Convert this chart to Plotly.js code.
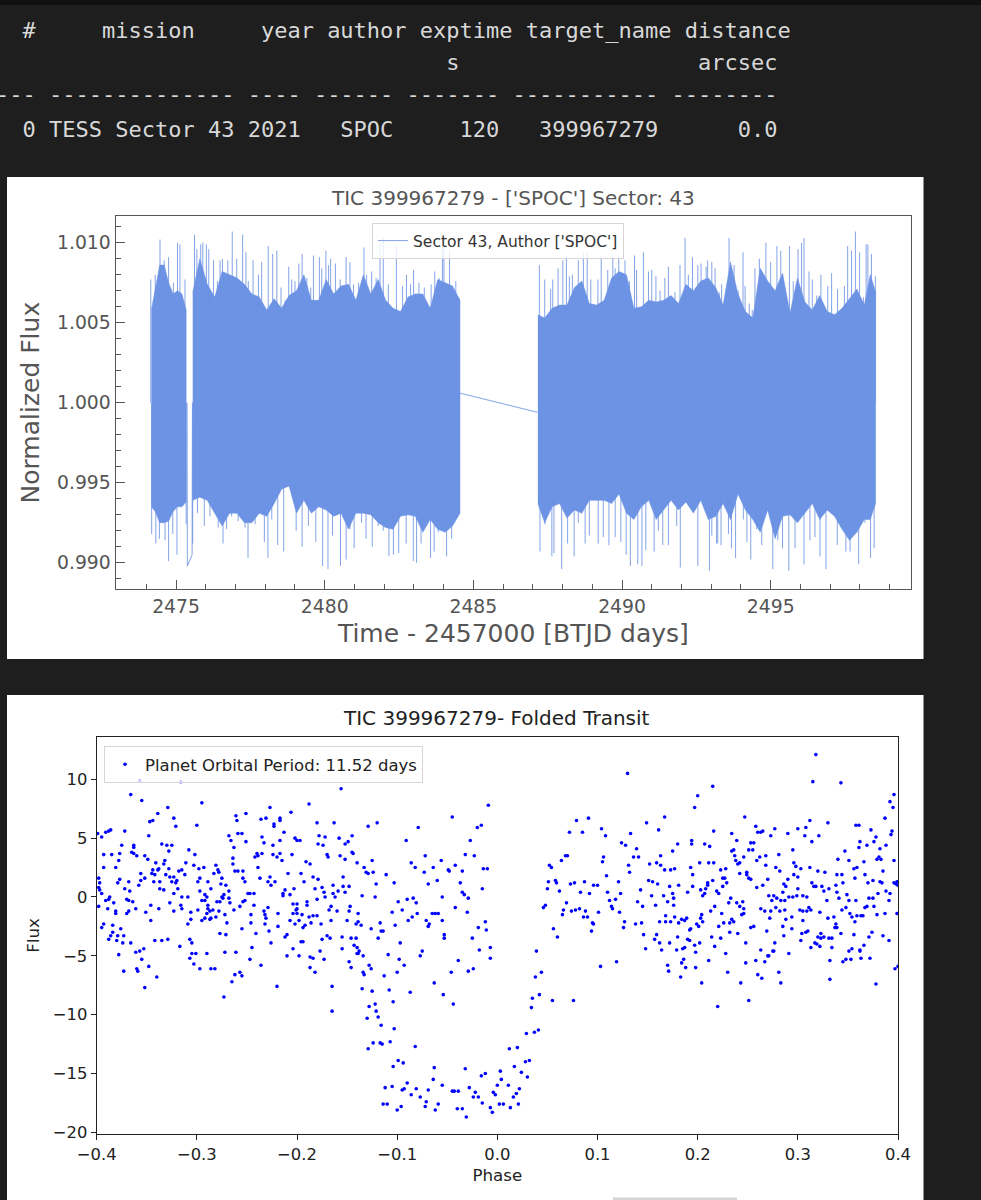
<!DOCTYPE html>
<html><head><meta charset="utf-8">
<script src="https://cdn.plot.ly/plotly-3.0.1.min.js"></script>
<style>html,body{margin:0;padding:0;background:#1e1e1e}#c{width:981px;height:1200px}</style>
</head><body><div id="c"></div>
<script>
// ---- table text
const tableRows = [
 "  #     mission     year author exptime target_name distance",
 "                                  s                  arcsec",
 "--- -------------- ---- ------ ------- ----------- --------",
 "  0 TESS Sector 43 2021   SPOC     120   399967279      0.0"
];
// ---- light curve: tallest upward spikes [time, flux]
const upperSpikes = [[2474.15,1.0077],[2474.30,1.0080],[2474.46,1.0102],[2474.60,1.0089],[2474.75,1.0091],[2474.91,1.0075],[2475.05,1.0100],[2475.13,1.0099],[2475.30,1.0077],
[2475.62,1.0105],[2475.70,1.0096],[2475.83,1.0099],[2475.90,1.0100],[2476.02,1.0099],[2476.10,1.0096],[2476.26,1.0089],[2476.39,1.0076],[2476.48,1.0089],[2476.56,1.0090],[2476.74,1.0089],[2476.89,1.0107],[2477.04,1.0090],[2477.24,1.0105],[2477.35,1.0094],[2477.43,1.0076],[2477.59,1.0089],[2477.77,1.0080],[2477.88,1.0088],[2478.10,1.0098],[2478.25,1.0093],[2478.39,1.0095],[2478.53,1.0072],[2478.67,1.0064],[2478.79,1.0085],[2478.89,1.0077],[2479.00,1.0076],[2479.13,1.0087],[2479.24,1.0093],[2479.40,1.0078],[2479.53,1.0072],[2479.62,1.0092],[2479.82,1.0091],[2479.90,1.0084],[2480.04,1.0095],[2480.13,1.0086],
[2480.20,1.0090],[2480.36,1.0087],[2480.52,1.0077],[2480.72,1.0091],[2480.85,1.0088],[2480.97,1.0074],[2481.14,1.0075],[2481.32,1.0097],[2481.41,1.0080],[2481.58,1.0082],[2481.73,1.0078],[2481.86,1.0100],[2481.97,1.0103],[2482.14,1.0074],[2482.25,1.0059],[2482.41,1.0099],[2482.62,1.0073],[2482.75,1.0080],[2482.89,1.0074],[2482.99,1.0083],[2483.17,1.0075],[2483.35,1.0072],[2483.58,1.0074],[2483.70,1.0082],[2483.85,1.0078],[2483.96,1.0099],[2484.01,1.0099],[2484.20,1.0095],[2484.41,1.0076],[2484.51,1.0066],
[2487.22,1.0086],[2487.40,1.0077],[2487.60,1.0071],[2487.67,1.0077],[2487.85,1.0084],[2488.01,1.0089],[2488.13,1.0092],[2488.23,1.0079],[2488.33,1.0080],[2488.53,1.0089],[2488.70,1.0094],[2488.83,1.0094],[2488.95,1.0077],[2489.19,1.0077],[2489.30,1.0092],[2489.52,1.0083],[2489.69,1.0092],[2489.77,1.0084],[2489.89,1.0092],[2490.10,1.0089],[2490.25,1.0076],[2490.42,1.0092],[2490.49,1.0083],[2490.72,1.0094],[2490.89,1.0082],[2491.00,1.0083],[2491.14,1.0079],[2491.28,1.0070],[2491.44,1.0078],[2491.56,1.0085],[2491.78,1.0069],[2491.95,1.0086],[2492.12,1.0103],[2492.23,1.0080],[2492.37,1.0091],[2492.55,1.0086],[2492.66,1.0087],[2492.83,1.0085],[2492.88,1.0089],[2493.02,1.0088],[2493.13,1.0084],
[2493.27,1.0069],[2493.35,1.0074],[2493.46,1.0062],[2493.60,1.0103],[2493.77,1.0086],[2493.91,1.0070],[2494.07,1.0094],[2494.14,1.0073],[2494.28,1.0062],[2494.38,1.0058],[2494.47,1.0084],[2494.62,1.0090],[2494.84,1.0100],[2495.00,1.0088],[2495.21,1.0098],[2495.34,1.0095],[2495.48,1.0066],[2495.63,1.0098],[2495.76,1.0076],[2495.92,1.0096],[2496.04,1.0100],[2496.12,1.0103],[2496.29,1.0082],[2496.40,1.0077],[2496.55,1.0067],[2496.69,1.0080],[2496.92,1.0073],[2497.05,1.0081],[2497.25,1.0071],[2497.48,1.0073],[2497.59,1.0098],[2497.72,1.0095],[2497.85,1.0107],[2497.99,1.0094],[2498.12,1.0066],[2498.21,1.0099],[2498.27,1.0099],[2498.39,1.0093],[2498.52,1.0079]];
// ---- light curve: deepest downward spikes [time, flux]
const lowerSpikes = [[2474.18,0.9918],[2474.32,0.9912],[2474.44,0.9915],[2474.63,0.9914],[2474.75,0.9901],[2474.89,0.9918],[2475.03,0.9905],[2475.34,0.9924],
[2475.56,0.9912],[2475.72,0.9931],[2475.95,0.9923],[2476.14,0.9929],[2476.42,0.9922],[2476.58,0.9912],[2476.70,0.9921],[2476.87,0.9929],[2477.09,0.9926],[2477.32,0.9922],[2477.42,0.9903],[2477.66,0.9924],[2477.97,0.9913],[2478.09,0.9903],[2478.22,0.9927],[2478.42,0.9911],[2478.62,0.9907],[2479.04,0.9920],[2479.24,0.9910],[2479.45,0.9923],[2479.70,0.9913],[2479.93,0.9898],[2480.11,0.9896],[2480.26,0.9917],[2480.53,0.9898],[2480.72,0.9902],[2480.85,0.9921],[2480.99,0.9909],[2481.24,0.9925],[2481.39,0.9915],[2481.60,0.9910],[2481.80,0.9923],[2481.97,0.9920],[2482.16,0.9904],[2482.31,0.9905],[2482.49,0.9906],[2482.74,0.9912],[2482.98,0.9901],[2483.09,0.9900],[2483.24,0.9912],[2483.56,0.9903],[2483.68,0.9907],[2483.82,0.9919],[2483.97,0.9922],[2484.10,0.9904],[2484.27,0.9915],[2484.50,0.9930],
[2487.24,0.9907],[2487.41,0.9924],[2487.64,0.9904],[2487.71,0.9906],[2487.97,0.9896],[2488.17,0.9912],[2488.39,0.9904],[2488.53,0.9925],[2488.76,0.9912],[2488.90,0.9917],[2489.20,0.9912],[2489.37,0.9916],[2489.56,0.9911],[2489.77,0.9916],[2489.96,0.9913],[2490.14,0.9905],[2490.28,0.9898],[2490.53,0.9899],[2490.67,0.9898],[2490.80,0.9908],[2491.08,0.9907],[2491.22,0.9920],[2491.37,0.9911],[2491.56,0.9911],[2491.84,0.9923],[2491.96,0.9897],[2492.55,0.9898],[2492.94,0.9895],[2493.22,0.9912],
[2493.02,0.9917],[2493.18,0.9912],[2493.33,0.9911],[2493.58,0.9918],[2493.68,0.9909],[2493.82,0.9903],[2494.08,0.9927],[2494.20,0.9913],[2494.33,0.9902],[2494.53,0.9921],[2494.70,0.9911],[2495.07,0.9896],[2495.24,0.9914],[2495.40,0.9909],[2495.61,0.9895],[2495.82,0.9909],[2496.12,0.9899],[2496.32,0.9914],[2496.49,0.9916],[2496.66,0.9904],[2496.86,0.9896],[2497.24,0.9911],[2497.53,0.9907],[2497.67,0.9907],[2497.80,0.9920],[2497.96,0.9899],[2498.17,0.9925],[2498.36,0.9903],[2498.48,0.9909]];
// ---- light curve: the solid band [time, top of band, bottom of band]
const bandA = [[2474.17,1.0058,0.9935],[2474.30,1.0070,0.9932],[2474.45,1.0086,0.9925],[2474.60,1.0086,0.9925],[2474.75,1.0075,0.9926],[2474.90,1.0068,0.9932],[2475.05,1.0070,0.9935],[2475.20,1.0068,0.9935],[2475.34,1.0058,0.9938]];
const bandB = [[2475.56,1.0069,0.9939],[2475.80,1.0090,0.9941],[2476.05,1.0074,0.9939],[2476.30,1.0066,0.9931],[2476.55,1.0082,0.9923],[2476.80,1.0080,0.9931],[2477.05,1.0078,0.9931],[2477.30,1.0074,0.9925],[2477.55,1.0068,0.9925],[2477.80,1.0066,0.9931],[2478.05,1.0058,0.9929],[2478.30,1.0065,0.9937],[2478.55,1.0059,0.9946],[2478.80,1.0067,0.9948],[2479.05,1.0070,0.9931],[2479.30,1.0080,0.9939],[2479.55,1.0064,0.9931],[2479.80,1.0064,0.9935],[2480.05,1.0077,0.9933],[2480.30,1.0068,0.9929],[2480.55,1.0073,0.9931],[2480.80,1.0074,0.9921],[2481.05,1.0064,0.9931],[2481.30,1.0080,0.9931],[2481.55,1.0068,0.9930],[2481.80,1.0077,0.9925],[2482.05,1.0064,0.9922],[2482.30,1.0059,0.9921],[2482.55,1.0057,0.9929],[2482.80,1.0066,0.9930],[2483.05,1.0068,0.9929],[2483.30,1.0068,0.9919],[2483.55,1.0059,0.9927],[2483.80,1.0077,0.9921],[2484.05,1.0075,0.9919],[2484.30,1.0073,0.9923],[2484.55,1.0064,0.9931]];
const bandC = [[2487.17,1.0055,0.9937],[2487.40,1.0053,0.9925],[2487.65,1.0059,0.9935],[2487.90,1.0061,0.9937],[2488.15,1.0061,0.9928],[2488.40,1.0072,0.9933],[2488.65,1.0076,0.9931],[2488.90,1.0062,0.9939],[2489.15,1.0061,0.9939],[2489.40,1.0064,0.9939],[2489.65,1.0078,0.9937],[2489.90,1.0082,0.9943],[2490.15,1.0080,0.9931],[2490.40,1.0059,0.9927],[2490.65,1.0060,0.9935],[2490.90,1.0064,0.9939],[2491.15,1.0063,0.9927],[2491.40,1.0064,0.9933],[2491.65,1.0067,0.9939],[2491.90,1.0062,0.9933],[2492.15,1.0074,0.9938],[2492.40,1.0070,0.9931],[2492.65,1.0076,0.9939],[2492.90,1.0078,0.9927],[2493.15,1.0072,0.9929],[2493.40,1.0061,0.9937],[2493.65,1.0088,0.9927],[2493.90,1.0068,0.9943],[2494.15,1.0057,0.9933],[2494.40,1.0053,0.9927],[2494.65,1.0084,0.9919],[2494.90,1.0076,0.9933],[2495.15,1.0070,0.9915],[2495.40,1.0081,0.9929],[2495.65,1.0056,0.9930],[2495.90,1.0078,0.9925],[2496.15,1.0063,0.9931],[2496.40,1.0058,0.9937],[2496.65,1.0067,0.9927],[2496.90,1.0057,0.9933],[2497.15,1.0055,0.9929],[2497.40,1.0059,0.9921],[2497.65,1.0065,0.9914],[2497.90,1.0071,0.9919],[2498.15,1.0061,0.9927],[2498.35,1.0080,0.9927],[2498.53,1.0069,0.9937]];
// ---- light curve: the two long jumps across data gaps
const gapLinkA = [[2475.37,1.0000],[2475.38,0.9898],[2475.54,0.9905],[2475.55,1.0000]];
const gapLinkB = [[2484.55,1.0006],[2487.16,0.9994]];
const normalFlux = 1.0;
// ---- folded transit [phase, flux]
const foldedPoints = [[-.399,5.4],[-.395,5.1],[-.391,5.5],[-.388,5.6],[-.386,5.7],[-.372,5.6],[-.366,8.7],[-.357,9.9],[-.355,8.2],[-.339,7.1],[-.344,6.5],[-.347,6.4],[-.329,7.6],[-.323,6.7],[-.321,6.0],[-.316,9.8],[-.300,6.1],[-.295,8.0],[-.348,5.2],[-.335,4.5],[-.330,4.4],[-.325,4.4],[-.375,4.4],[-.363,4.4],[-.363,4.2],[-.365,3.8],[-.363,3.7],[-.360,3.5],[-.393,3.6],[-.385,3.6],[-.377,3.7],[-.352,3.5],[-.349,3.2],[-.328,3.9],[-.308,4.0],[-.302,3.6],[-.393,2.5],[-.378,3.1],[-.381,2.5],[-.332,3.1],[-.341,2.9],[-.333,2.8],[-.338,2.4],[-.328,2.4],[-.311,2.9],[-.303,2.7],[-.298,2.4],[-.293,2.5],[-.315,2.3],[-.318,2.2],[-.312,1.9],[-.281,2.7],[-.279,2.3],[-.278,2.1],[-.283,2.0],[-.356,2.0],[-.344,2.3],[-.339,2.3],[-.345,2.0],[-.342,1.9],[-.331,1.9],[-.352,1.6],[-.356,1.4],[-.377,1.5],[-.379,1.2],[-.368,1.3],[-.358,1.0],[-.343,1.3],[-.337,1.3],[-.398,1.6],[-.397,1.2],[-.327,1.7],[-.323,1.7],[-.325,1.3],[-.320,1.4],[-.321,1.2],[-.297,1.6],[-.299,1.3],[-.289,1.3],[-.275,1.6],[-.276,1.1],[-.271,1.0],[-.286,.7],[-.297,.5],[-.292,.2],[-.290,0],[-.398,.8],[-.397,.6],[-.395,.3],[-.372,.7],[-.367,.5],[-.337,.7],[-.333,.6],[-.319,.7],[-.323,.3],[-.315,0],[-.309,0],[-.268,.5],[-.273,.2],[-.275,0],[-.295,-.3],[-.388,-.2],[-.391,-.3],[-.387,0],[-.370,-.2],[-.368,-.3],[-.327,-.5],[-.364,-.4],[-.383,-.5],[-.398,-.8],[-.389,-1.0],[-.361,-1.0],[-.381,-1.2],[-.381,-1.4],[-.370,-1.4],[-.368,-1.2],[-.351,-1.3],[-.346,-.7],[-.338,-1.0],[-.346,-2.0],[-.323,-1.2],[-.315,-1.0],[-.316,-.7],[-.306,-1.3],[-.299,-1.1],[-.306,-1.9],[-.295,-2.0],[-.290,-1.4],[-.289,-1.0],[-.287,-1.2],[-.284,-1.1],[-.287,-1.9],[-.292,-1.8],[-.286,-1.8],[-.281,-1.7],[-.278,-1.2],[-.280,-.4],[-.277,-.4],[-.292,-.3],[-.289,-.7],[-.274,-.1],[-.268,-.1],[-.267,-.5],[-.263,-1.1],[-.257,-.8],[-.254,-.4],[-.252,-.3],[-.249,.3],[-.247,.3],[-.243,.3],[-.270,-2.2],[-.272,-1.5],[-.255,-2.7],[-.309,-2.3],[-.246,-1.5],[-.246,-2.2],[-.233,-1.2],[-.232,-1.5],[-.231,-1.8],[-.232,-2.3],[-.243,-.7],[-.229,-.9],[-.219,-1.4],[-.241,-3.1],[-.228,-2.9],[-.219,-2.5],[-.277,-3.1],[-.271,-3.2],[-.226,-3.9],[-.212,-3.4],[-.210,-3.2],[-.204,-4.4],
[-.395,-2.6],[-.393,-2.3],[-.384,-2.4],[-.376,-2.7],[-.373,-3.3],[-.386,-3.3],[-.388,-3.6],[-.384,-3.0],[-.379,-3.3],[-.380,-3.7],[-.374,-3.9],[-.366,-3.9],[-.361,-4.7],[-.357,-4.6],[-.353,-4.4],[-.378,-4.9],[-.342,-3.7],[-.335,-3.7],[-.329,-3.6],[-.317,-4.2],[-.307,-3.6],[-.305,-3.9],[-.305,-4.8],[-.301,-4.8],[-.290,-4.8],[-.272,-4.7],[-.261,-4.7],[-.245,-4.3],
[-.227,7.6],[-.236,6.6],[-.231,6.7],[-.217,6.7],[-.217,6.5],[-.223,6.2],[-.223,6.0],[-.261,6.9],[-.260,6.5],[-.251,7.1],[-.259,5.4],[-.255,5.4],[-.268,5.2],[-.266,4.8],[-.251,4.7],[-.263,4.2],[-.240,3.7],[-.235,3.7],[-.242,3.4],[-.239,3.5],[-.235,5.1],[-.233,4.6],[-.264,3.3],[-.264,2.8],[-.262,2.2],[-.259,2.2],[-.254,2.2],[-.254,1.6],[-.252,1.3],[-.239,2.5],[-.227,1.7],[-.229,1.3],[-.226,1.0],[-.222,1.3],[-.237,1.6],[-.224,3.6],[-.220,3.4],[-.217,3.7],[-.215,3.1],[-.213,5.5],[-.206,7.2],[-.188,7.9],[-.202,5.0],[-.200,4.8],[-.197,4.8],[-.217,4.8],[-.224,4.4],[-.205,3.6],[-.209,2.0],[-.196,2.0],[-.193,1.3],[-.191,3.0],[-.187,2.8],[-.184,1.7],[-.179,1.5],[-.180,6.3],[-.178,5.2],[-.172,5.1],[-.179,4.5],[-.174,4.4],[-.170,3.6],[-.169,3.4],[-.163,6.3],[-.158,5.0],[-.156,9.2],[-.152,4.5],[-.149,4.7],[-.145,5.2],[-.157,3.5],[-.152,3.2],[-.145,3.8],[-.144,3.7],[-.140,2.9],[-.129,6.0],[-.120,6.3],[-.125,3.1],[-.133,2.5],[-.131,2.1],[-.129,2.0],[-.124,2.1],[-.111,1.9],[-.103,1.2],[-.121,1.1],[-.154,1.7],[-.164,1.0],[-.154,.9],[-.148,.9],[-.203,.7],[-.212,.6],[-.214,.3],[-.214,.1],[-.207,.2],[-.182,.7],[-.175,.8],[-.173,.4],[-.172,0],[-.164,.3],[-.162,0],[-.159,.5],[-.152,.4],[-.180,-.2],[-.135,.1],[-.122,0],[-.204,-.6],[-.200,-.6],[-.190,-.4],[-.190,-.7],[-.200,-1.0],[-.201,-1.1],[-.204,-1.4],[-.200,-1.4],[-.195,-1.5],[-.188,-1.7],[-.184,-1.6],[-.180,-1.6],[-.207,-2.0],[-.202,-2.3],[-.198,-2.0],[-.192,-2.4],[-.194,-2.6],[-.186,-2.2],[-.176,-2.3],[-.166,-2.0],[-.168,-1.1],[-.166,-.8],[-.160,-1.2],[-.150,-2.0],[-.148,-1.2],[-.147,-.8],[-.139,-1.4],[-.139,-2.1],[-.141,-2.3],[-.136,-2.4],[-.126,-2.7],[-.117,-2.2],[-.116,-2.9],[-.114,-2.9],[-.119,-3.5],[-.105,-1.3],[-.095,-1.1],[-.099,-.4],[-.090,-.2],[-.084,-.1],[-.081,-.5],[-.080,-1.4],[-.085,-1.7],[-.089,-2.0],[-.102,-2.4],[-.079,5.9],[-.091,4.8],[-.086,2.9],[-.082,2.5],[-.073,2.1],[-.072,3.5],[-.064,2.5],[-.056,3.1],[-.069,1.1],[-.060,1.4],[-.055,0],[-.071,-2.0],[-.068,-2.3],[-.069,-2.5],[-.065,-1.4],[-.062,-1.4],[-.059,-1.4],[-.055,-2.0],[-.053,-3.2],[-.053,-3.5],[-.075,-4.6],[-.077,-5.0],[-.045,6.8],[-.027,4.8],[-.020,5.9],[-.016,6.1],[-.009,7.8],[-.049,2.3],[-.048,2.2],[-.042,2.7],[-.035,2.2],[-.032,3.6],[-.023,3.5],[-.037,1.2],[-.015,.7],[-.014,2.4],[-.010,2.4],[-.035,.4],[-.033,.2],[-.029,-.1],[-.042,-.9],[-.030,-1.3],[-.012,-2.1],[-.011,-2.8],[-.019,-2.6],[-.025,-3.5],[-.018,-4.5],[-.007,-4.3],[-.196,-3.8],[-.194,-3.8],[-.175,-3.6],[-.170,-3.3],[-.167,-3.5],[-.155,-3.4],[-.146,-3.5],[-.141,-3.5],[-.143,-4.1],[-.140,-4.3],[-.138,-4.6],[-.155,-4.4],[-.177,-4.6],[-.140,-4.8],[-.097,-3.9],[-.210,-5.0],[-.198,-5.0],[-.187,-5.1],
[-.373,-6.3],[-.360,-6.1],[-.359,-6.3],[-.355,-5.3],[-.348,-5.9],[-.352,-7.7],[-.340,-6.8],[-.307,-5.2],[-.303,-5.7],[-.297,-6.1],[-.286,-6.1],[-.282,-6.1],[-.273,-8.5],[-.265,-7.2],[-.262,-6.6],[-.257,-6.4],[-.255,-6.7],[-.247,-5.3],[-.236,-5.8],[-.220,-7.6],[-.187,-6.0],[-.184,-5.2],[-.182,-6.4],[-.173,-5.3],[-.165,-7.6],[-.165,-9.7],[-.148,-5.5],[-.146,-6.0],[-.139,-4.8],[-.134,-5.0],[-.135,-7.8],[-.134,-6.4],[-.133,-6.6],[-.128,-5.8],[-.126,-6.1],[-.125,-8.0],[-.128,-9.3],[-.122,-9.1],[-.121,-9.7],[-.130,-10.3],[-.119,-10.2],[-.116,-10.9],[-.124,-12.4],[-.129,-12.9],[-.117,-12.4],[-.115,-12.5],[-.107,-12.3],[-.103,-11.2],[-.104,-8.9],[-.108,-7.9],[-.113,-6.7],[-.109,-4.9],[-.100,-6.4],[-.098,-5.3],[-.093,-5.8],[-.087,-8.1],[-.082,-12.7],[-.104,-14.4],[-.099,-13.9],[-.094,-14.1],[-.112,-16.2],[-.105,-16.1],[-.114,-17.6],[-.110,-17.6],[-.100,-18.1],[-.096,-17.8],[-.095,-16.4],[-.093,-16.3],[-.090,-15.8],[-.086,-16.8],[-.081,-16.3],[-.077,-17.0],[-.069,-16.4],[-.072,-17.8],[-.071,-17.4],[-.062,-18.1],[-.059,-17.6],[-.063,-14.5],[-.064,-15.5],[-.055,-16.0],[-.045,-16.5],[-.043,-16.5],[-.039,-16.5],[-.040,-18.0],[-.035,-18.0],[-.031,-18.7],[-.032,-14.6],[-.028,-16.2],[-.022,-16.6],[-.024,-17.0],[-.019,-17.0],[-.015,-17.5],[-.016,-15.2],[-.012,-15.0],[-.007,-17.9],[-.005,-18.3],[-.004,-16.6],[-.002,-16.8],[-.000,-16.0],[.002,-17.6],[-.063,-7.3],[-.054,-8.3],[-.044,-9.1],[-.046,-6.4],[-.029,-6.3],[-.024,-6.1],[-.039,-5.4],[-.007,-5.2],
[.003,-14.8],[.004,-15.5],[.006,-17.6],[.011,-16.0],[.013,-17.9],[.012,-12.9],[.017,-14.4],[.016,-17.0],[.019,-16.7],[.020,-12.8],[.021,-17.6],[.022,-16.3],[.024,-14.9],[.028,-14.0],[.032,-13.9],[.030,-15.3],[.029,-11.6],[.037,-11.5],[.041,-11.3],[.034,-9.4],[.035,-8.6],[.042,-8.3],[.038,-6.8],[.044,-6.4],[.055,-8.8],[.076,-8.8],[.039,-4.6],[.103,-5.9],[.119,-5.5],[.220,-9.3],[.204,-7.3],[.230,-6.4],[.243,-7.3],[.251,-8.8],[.260,-6.6],[.264,-6.9],[.258,-5.4],[.248,-5.6],[.267,-5.5],[.271,-5.0],[.276,-4.6],[.281,-6.4],[.283,-7.3],[.291,-4.8],[.332,-7.0],[.332,-5.4],[.345,-5.5],[.348,-5.3],[.353,-5.3],[.351,-4.6],[.363,-5.2],[.362,-4.6],[.372,-5.2],[.378,-7.4],[.397,-6.1],[.400,-5.9],[.170,-5.8],[.171,-6.3],[.183,-6.8],[.184,-5.6],[.186,-5.3],[.188,-6.0],[.198,-6.0],[.198,-4.7],[.211,-5.4],[.228,-4.8],
[.130,10.5],[.318,12.1],[.315,9.8],[.343,9.7],[.215,9.4],[.200,8.6],[.197,7.6],[.396,8.7],[.392,8.1],[.395,7.6],[.387,6.7],[.079,6.5],[.091,6.7],[.167,6.8],[.149,6.3],[.247,6.8],[.312,6.5],[.330,6.3],[.161,5.7],[.072,5.5],[.085,5.5],[.104,5.8],[.108,5.2],[.133,5.4],[.216,5.6],[.234,5.4],[.239,4.8],[.258,6.0],[.260,5.5],[.265,5.6],[.263,5.5],[.277,5.8],[.273,5.2],[.290,5.4],[.300,5.8],[.308,5.9],[.307,5.2],[.314,4.7],[.321,5.2],[.358,6.1],[.361,6.1],[.373,5.7],[.378,5.1],[.376,4.7],[.362,4.7],[.369,4.4],[.361,4.2],[.388,4.4],[.393,5.3],[.394,5.6],[.124,4.6],[.128,4.4],[.139,4.1],[.194,4.8],[.194,4.5],[.207,4.5],[.212,4.3],[.180,4.5],[.175,3.9],[.253,4.6],[.256,4.6],[.251,4.0],[.255,4.0],[.234,3.9],[.236,4.0],[.295,4.0],[.237,3.5],[.246,3.4],[.268,3.5],[.281,3.6],[.379,3.2],[.381,3.4],[.383,3.2],[.382,4.1],[.347,3.9],[.068,3.5],[.070,3.5],[.106,3.4],[.136,3.4],[.141,3.4],[.163,3.5],[.064,3.1],[.105,3.0],[.052,2.7],[.054,2.5],[.131,2.7],[.132,2.1],[.152,2.8],[.159,2.9],[.163,2.7],[.167,2.3],[.173,2.3],[.177,2.4],[.193,2.5],[.202,2.9],[.211,2.9],[.216,2.9],[.195,1.9],[.223,2.3],[.228,2.4],[.238,3.1],[.240,2.8],[.242,2.9],[.242,2.0],[.259,3.1],[.262,3.4],[.268,2.7],[.278,2.5],[.282,2.2],[.296,2.9],[.298,2.6],[.303,2.4],[.312,2.5],[.320,2.2],[.327,2.1],[.340,3.2],[.351,3.1],[.356,2.4],[.359,2.5],[.366,3.0],[.396,3.1],[.385,2.2],[.357,1.6],[.367,1.9],[.339,1.9],[.344,1.9],[.338,1.0],[.345,1.2],[.249,2.1],[.249,1.9],[.251,1.6],[.253,1.5],[.225,1.6],[.227,1.6],[.229,1.2],[.215,1.4],[.210,1.2],[.210,1.0],[.208,.7],[.207,.3],[.205,.1],[.195,.9],[.190,.4],[.203,.6],[.225,.9],[.219,.5],[.221,.3],[.270,1.5],[.265,1.0],[.259,.8],[.290,1.5],[.286,1.1],[.285,.4],[.288,.9],[.296,1.9],[.300,1.7],[.300,.7],[.314,1.2],[.316,.9],[.318,.9],[.324,.9],[.326,.5],[.331,.7],[.370,1.2],[.375,1.4],[.382,1.3],[.384,1.2],[.388,.5],[.392,.3],[.380,.3],[.396,1.2],[.399,1.3],[.398,1.1],[.400,1.0],[.391,-.3],[.387,-1.4],[.399,-1.4],[.379,-1.5],[.371,-.1],[.375,-.1],[.369,-.8],[.367,-.9],[.376,-.8],[.358,-.3],[.351,-.3],[.349,.2],[.341,-.1],[.339,.4],[.329,-.3],[.322,-1.3],
[.051,1.3],[.058,1.4],[.059,1.2],[.073,1.1],[.077,1.2],[.087,1.3],[.050,.7],[.062,.5],[.096,1.0],[.100,1.0],[.121,1.3],[.083,.4],[.092,.3],[.110,.4],[.123,.3],[.109,1.8],[.118,-.2],[.112,-.3],[.046,-.9],[.048,-.7],[.069,-.5],[.114,-.8],[.115,-1.0],[.066,-1.1],[.065,-1.5],[.074,-1.2],[.078,-1.1],[.082,-1.0],[.088,-1.2],[.101,-1.3],[.122,-1.3],[.086,-1.7],[.090,-1.7],[.095,-2.2],[.096,-2.3],[.127,-2.1],[.138,-2.3],[.144,-2.2],[.126,-2.6],[.094,-2.9],[.056,-2.7],[.060,-3.4],
[.143,.6],[.154,.1],[.166,.1],[.175,.3],[.176,-.1],[.140,-.4],[.145,-.8],[.158,-.7],[.170,-.4],[.176,-.7],[.151,1.4],[.155,1.3],[.160,1.1],[.172,.9],[.181,1.0],[.168,-1.6],[.162,-2.1],[.168,-2.1],[.173,-2.1],[.177,-1.7],[.181,-2.2],[.184,-1.9],[.187,-2.0],[.189,-1.8],[.204,-1.5],[.203,-1.8],[.199,-2.3],[.201,-2.5],[.205,-2.1],[.213,-1.2],[.217,-.8],[.224,-1.4],[.221,-2.5],[.226,-2.2],[.232,-2.2],[.234,-1.9],[.236,-2.1],[.231,-.5],[.233,-.1],[.239,-.5],[.242,-.8],[.245,-.4],[.246,-1.0],[.246,-1.4],[.244,-1.5],[.192,-2.8],[.193,-2.7],[.232,-3.0],[.240,-3.1],[.253,-2.6],[.256,-2.5],[.263,-1.0],[.267,-1.2],[.272,-1.8],[.273,-1.2],[.278,-.9],[.282,-1.2],[.287,-1.1],[.271,.1],[.276,.1],[.274,-.3],[.279,-.1],[.283,-.3],[.287,-.3],[.291,0],[.295,0],[.299,.1],[.305,.1],[.309,0],[.288,-1.9],[.294,-1.7],[.285,-2.5],[.294,-2.7],[.269,-2.9],[.305,-2.0],[.302,-1.1],[.305,-1.2],[.309,-1.2],[.311,-.9],[.313,-1.1],[.304,-3.1],[.308,-3.0],[.310,-2.9],[.330,-1.8],[.336,-1.7],[.338,-2.3],[.337,-2.6],[.339,-2.6],[.343,-3.1],[.356,-3.2],[.354,-1.7],[.352,-1.4],[.348,-.9],[.344,-1.1],[.357,-2.1],[.359,-1.6],[.363,-1.6],[.365,-1.6],[.323,-3.1],[.320,-3.4],[.323,-3.5],[.326,-3.4],[.331,-3.5],[.334,-3.5],[.303,-3.7],[.313,-4.3],[.317,-3.9],[.319,-4.0],[.322,-4.2],[.334,-4.3],[.374,-3.0],[.371,-3.4],[.366,-4.1],[.362,-4.5],[.354,-4.4],[.385,-3.3],[.391,-3.7],[.146,-3.2],[.159,-3.2],[.157,-3.6],[.162,-3.9],[.148,-4.4],[.164,-4.5],[.172,-3.9],[.180,-3.4],[.179,-4.5],[.185,-4.4],[.187,-4.3],[.190,-3.6],[.192,-3.7],[.197,-4.1],[.202,-3.9],[.214,-3.4],[.217,-4.2],[.223,-3.5],[.248,-3.9],[.263,-4.5],[.277,-3.9],[.275,-4.6],[.270,-5.0],[.286,-3.3]];

// ---- styles
const W = 981, H = 1200;
const px = v => v / W, py = v => 1 - v / H;
const LC = '#6d93e4', GREY = '#555555', MONO = 'DejaVu Sans Mono', SANS = 'DejaVu Sans';

// solid band polygons from the band tables
function bandPolygon(rows, xs, ys) {
  rows.forEach(r => { xs.push(r[0]); ys.push(r[1]); });
  rows.slice().reverse().forEach(r => { xs.push(r[0]); ys.push(r[2]); });
  xs.push(null); ys.push(null);
}
const bx = [], by = [];
[bandA, bandB, bandC].forEach(b => bandPolygon(b, bx, by));

// spikes swing out from the normalised level and back
const spikes = upperSpikes.concat(lowerSpikes).sort((a, b) => a[0] - b[0]);
const sx = [], sy = [];
spikes.forEach(s => { sx.push(s[0], s[0], null); sy.push(s[1], normalFlux, null); });
[gapLinkA, gapLinkB].forEach(g => {
  g.forEach(p => { sx.push(p[0]); sy.push(p[1]); });
  sx.push(null); sy.push(null);
});

const traces = [
  {x: bx, y: by, mode: 'lines', fill: 'toself', fillcolor: LC, line: {width: 0.5, color: LC},
   showlegend: false, hoverinfo: 'skip', xaxis: 'x', yaxis: 'y'},
  {x: sx, y: sy, mode: 'lines', line: {width: 1, color: 'rgba(109,147,228,0.85)'},
   name: "Sector 43, Author ['SPOC']", xaxis: 'x', yaxis: 'y', legend: 'legend'},
  {x: foldedPoints.map(p => p[0]), y: foldedPoints.map(p => p[1]), mode: 'markers',
   marker: {size: 3.6, color: '#0000ff'}, name: 'Planet Orbital Period: 11.52 days',
   xaxis: 'x2', yaxis: 'y2', legend: 'legend2', cliponaxis: true}
];

const annotations = tableRows.map((t, i) => ({
  text: t.replace(/ /g, '\u00A0'), xref: 'paper', yref: 'paper',
  x: px(-6), y: py([30, 63, 95, 129][i]), xanchor: 'left', yanchor: 'middle', showarrow: false,
  font: {family: MONO, size: 22, color: '#d8d8d8'}
})).concat([
  {text: "TIC 399967279 - ['SPOC'] Sector: 43", xref: 'paper', yref: 'paper', x: px(513), y: py(198),
   xanchor: 'center', yanchor: 'middle', showarrow: false, font: {family: SANS, size: 20, color: GREY}},
  {text: 'TIC 399967279- Folded Transit', xref: 'paper', yref: 'paper', x: px(497), y: py(718),
   xanchor: 'center', yanchor: 'middle', showarrow: false, font: {family: SANS, size: 20, color: '#222222'}}
]);

const layout = {
  width: W, height: H, margin: {l: 0, r: 0, t: 0, b: 0},
  paper_bgcolor: '#1e1e1e', plot_bgcolor: '#ffffff', font: {family: SANS},
  shapes: [
    {type: 'rect', xref: 'paper', yref: 'paper', x0: px(0), x1: px(981), y0: py(0), y1: py(5), fillcolor: '#111111', line: {width: 0}, layer: 'below'},
    {type: 'rect', xref: 'paper', yref: 'paper', x0: px(7), x1: px(923.5), y0: py(177), y1: py(659), fillcolor: '#ffffff', line: {width: 0}, layer: 'below'},
    {type: 'rect', xref: 'paper', yref: 'paper', x0: px(7), x1: px(923.5), y0: py(695), y1: py(1200), fillcolor: '#ffffff', line: {width: 0}, layer: 'below'},
    {type: 'rect', xref: 'paper', yref: 'paper', x0: px(613), x1: px(737), y0: py(1197.5), y1: py(1200), fillcolor: '#d4d4d4', line: {width: 0}, layer: 'below'}
  ],
  annotations,
  showlegend: true,
  legend: {x: px(372), y: py(223), xanchor: 'left', yanchor: 'top', bgcolor: 'rgba(255,255,255,0.8)',
    bordercolor: '#d5d5d5', borderwidth: 1, font: {family: SANS, size: 15.5, color: '#333333'}},
  legend2: {x: px(104), y: py(746), xanchor: 'left', yanchor: 'top', bgcolor: 'rgba(255,255,255,0.8)',
    bordercolor: '#d5d5d5', borderwidth: 1, font: {family: SANS, size: 16.5, color: '#222222'}},
  xaxis: {domain: [px(115.7), px(911)], range: [2472.97, 2499.72], anchor: 'y', dtick: 5, tick0: 2475, tickformat: 'd',
    ticks: 'inside', ticklen: 9, tickcolor: GREY, tickwidth: 1.2, showgrid: false, zeroline: false,
    linecolor: GREY, linewidth: 1.3, mirror: true, tickfont: {family: SANS, size: 18.8, color: GREY},
    minor: {dtick: 1, tick0: 2475, ticks: 'inside', ticklen: 5, tickcolor: GREY, tickwidth: 1, showgrid: false},
    title: {text: 'Time - 2457000 [BTJD days]', font: {family: SANS, size: 25, color: GREY}, standoff: 8}},
  yaxis: {domain: [py(589.3), py(216)], range: [0.98834, 1.01167], anchor: 'x', dtick: 0.005, tick0: 1, tickformat: '.3f',
    ticks: 'inside', ticklen: 9, tickcolor: GREY, tickwidth: 1.2, showgrid: false, zeroline: false,
    linecolor: GREY, linewidth: 1.3, mirror: true, tickfont: {family: SANS, size: 18.8, color: GREY},
    minor: {dtick: 0.001, tick0: 1, ticks: 'inside', ticklen: 5, tickcolor: GREY, tickwidth: 1, showgrid: false},
    title: {text: 'Normalized Flux', font: {family: SANS, size: 25, color: GREY}, standoff: 10}},
  xaxis2: {domain: [px(96.7), px(898)], range: [-0.4, 0.4], anchor: 'y2', dtick: 0.1, tick0: 0, tickformat: '.1f',
    ticks: 'outside', ticklen: 5, tickcolor: '#222222', showgrid: false, zeroline: false,
    linecolor: '#222222', linewidth: 1.2, mirror: true, tickfont: {family: SANS, size: 16.4, color: '#222222'},
    title: {text: 'Phase', font: {family: SANS, size: 16.7, color: '#222222'}, standoff: 6}},
  yaxis2: {domain: [py(1134), py(736.7)], range: [-20.14, 13.62], anchor: 'x2', dtick: 5, tick0: 0,
    ticks: 'outside', ticklen: 5, tickcolor: '#222222', showgrid: false, zeroline: false,
    linecolor: '#222222', linewidth: 1.2, mirror: true, tickfont: {family: SANS, size: 16.4, color: '#222222'},
    title: {text: 'Flux', font: {family: SANS, size: 16.7, color: '#222222'}, standoff: 8}}
};
Plotly.newPlot('c', traces, layout, {displayModeBar: false, responsive: false});
</script></body></html>
